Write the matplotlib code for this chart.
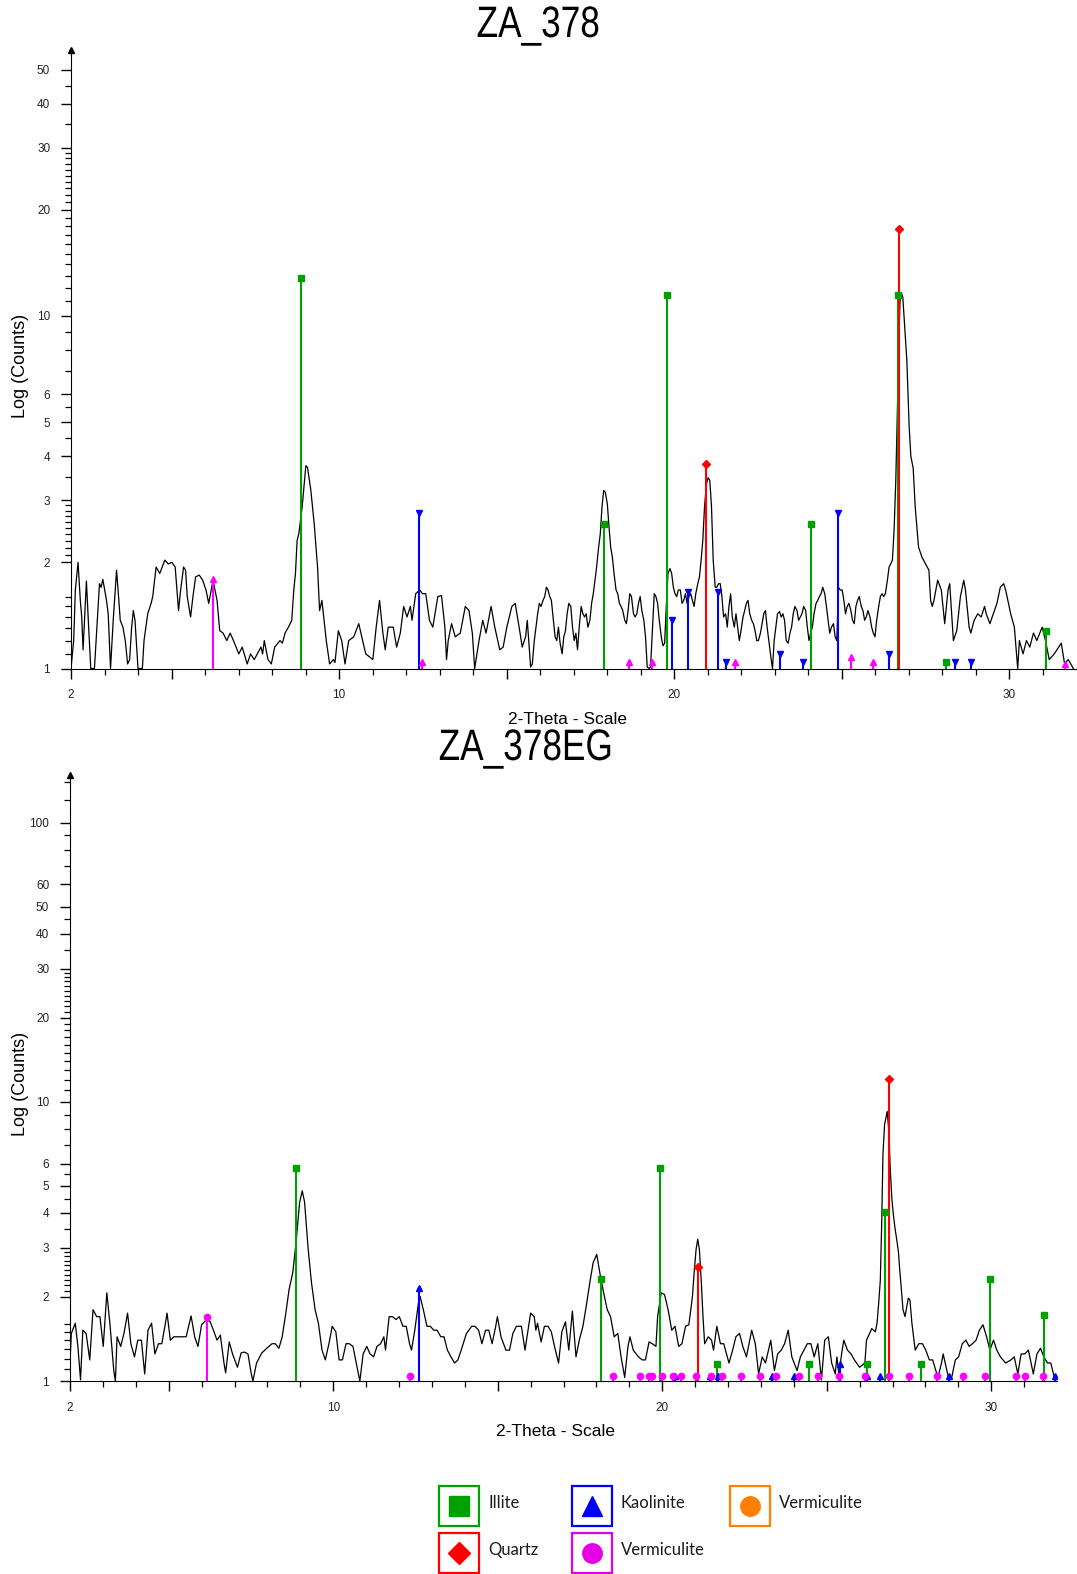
#! /usr/bin/env python3

import matplotlib
matplotlib.use('Agg')
import matplotlib.pyplot as plt
from matplotlib.ticker import FixedLocator, FixedFormatter, NullFormatter
from matplotlib.patches import Rectangle, PathPatch
from matplotlib.textpath import TextPath
from matplotlib.font_manager import FontProperties
from matplotlib.transforms import Affine2D

# ZA_378 scan, 2-theta (deg) and counts
za378_tth = [
    2.00, 2.08, 2.13, 2.21, 2.28, 2.32, 2.36, 2.46, 2.52, 2.59, 2.70, 2.75, 2.85, 2.90, 2.95,
    3.06, 3.11, 3.18, 3.26, 3.36, 3.42, 3.47, 3.55, 3.62, 3.69, 3.75, 3.81, 3.86, 3.91, 4.00,
    4.13, 4.18, 4.29, 4.39, 4.44, 4.54, 4.65, 4.80, 4.90, 5.01, 5.11, 5.21, 5.26, 5.36, 5.42,
    5.47, 5.57, 5.64, 5.72, 5.83, 5.93, 6.03, 6.11, 6.24, 6.36, 6.44, 6.54, 6.65, 6.75, 6.85,
    7.01, 7.11, 7.26, 7.36, 7.47, 7.67, 7.72, 7.77, 7.88, 7.98, 8.08, 8.24, 8.31, 8.39, 8.49,
    8.59, 8.65, 8.70, 8.75, 8.80, 8.90, 9.01, 9.06, 9.16, 9.26, 9.36, 9.42, 9.49, 9.62, 9.72,
    9.83, 9.88, 9.98, 10.08, 10.18, 10.29, 10.44, 10.59, 10.75, 10.80, 11.01, 11.11, 11.21,
    11.31, 11.38, 11.47, 11.62, 11.72, 11.83, 11.93, 12.03, 12.13, 12.18, 12.29, 12.41, 12.49,
    12.59, 12.70, 12.80, 12.95, 13.06, 13.16, 13.21, 13.26, 13.36, 13.47, 13.62, 13.77, 13.88,
    13.98, 14.05, 14.18, 14.29, 14.39, 14.54, 14.65, 14.80, 14.90, 15.01, 15.16, 15.26, 15.36,
    15.47, 15.57, 15.62, 15.72, 15.77, 15.83, 15.88, 15.93, 15.98, 16.03, 16.09, 16.14, 16.19,
    16.24, 16.29, 16.34, 16.40, 16.45, 16.50, 16.55, 16.60, 16.66, 16.71, 16.76, 16.81, 16.86,
    16.92, 16.97, 17.02, 17.07, 17.12, 17.17, 17.23, 17.28, 17.33, 17.38, 17.43, 17.49, 17.54,
    17.59, 17.64, 17.69, 17.75, 17.80, 17.85, 17.90, 17.95, 18.01, 18.06, 18.11, 18.16, 18.21,
    18.27, 18.32, 18.37, 18.42, 18.47, 18.53, 18.58, 18.63, 18.68, 18.73, 18.79, 18.84, 18.89,
    18.94, 18.99, 19.04, 19.10, 19.15, 19.20, 19.25, 19.30, 19.36, 19.41, 19.46, 19.51, 19.56,
    19.62, 19.67, 19.72, 19.77, 19.82, 19.88, 19.93, 19.98, 20.03, 20.08, 20.13, 20.19, 20.24,
    20.29, 20.34, 20.39, 20.45, 20.50, 20.55, 20.60, 20.65, 20.71, 20.76, 20.81, 20.86, 20.91,
    20.97, 21.02, 21.07, 21.12, 21.17, 21.23, 21.28, 21.33, 21.38, 21.43, 21.48, 21.54, 21.59,
    21.64, 21.69, 21.74, 21.80, 21.85, 21.90, 21.95, 22.00, 22.06, 22.11, 22.16, 22.21, 22.26,
    22.32, 22.37, 22.42, 22.47, 22.52, 22.58, 22.63, 22.68, 22.73, 22.78, 22.83, 22.89, 22.94,
    22.99, 23.04, 23.09, 23.15, 23.20, 23.25, 23.30, 23.35, 23.41, 23.46, 23.51, 23.56, 23.61,
    23.67, 23.72, 23.77, 23.82, 23.87, 23.93, 23.98, 24.03, 24.08, 24.13, 24.18, 24.24, 24.29,
    24.34, 24.39, 24.44, 24.50, 24.55, 24.60, 24.65, 24.70, 24.76, 24.81, 24.86, 24.91, 24.96,
    25.02, 25.07, 25.12, 25.17, 25.22, 25.28, 25.33, 25.38, 25.43, 25.48, 25.53, 25.59, 25.64,
    25.69, 25.74, 25.79, 25.85, 25.90, 25.95, 26.00, 26.05, 26.11, 26.16, 26.21, 26.26, 26.31,
    26.37, 26.42, 26.47, 26.52, 26.57, 26.62, 26.67, 26.71, 26.75, 26.79, 26.83, 26.88, 26.95,
    27.02, 27.07, 27.14, 27.20, 27.30, 27.40, 27.51, 27.61, 27.66, 27.71, 27.76, 27.87, 27.98,
    28.08, 28.18, 28.23, 28.34, 28.44, 28.55, 28.65, 28.70, 28.81, 28.86, 28.96, 29.07, 29.17,
    29.27, 29.32, 29.43, 29.64, 29.74, 29.84, 29.90, 30.05, 30.16, 30.26, 30.31, 30.42, 30.52,
    30.62, 30.73, 30.83, 30.99, 31.09, 31.20, 31.35, 31.56, 31.66, 31.77, 31.92,
]
za378_cnt = [
    1.00, 1.20, 1.67, 2.00, 1.55, 1.40, 1.13, 1.77, 1.35, 1.00, 1.00, 1.20, 1.74, 1.70, 1.79,
    1.56, 1.43, 1.00, 1.37, 1.90, 1.60, 1.37, 1.31, 1.20, 1.03, 1.06, 1.31, 1.46, 1.37, 1.00,
    1.00, 1.20, 1.43, 1.53, 1.60, 1.94, 1.86, 2.03, 1.98, 2.00, 1.94, 1.46, 1.63, 1.94, 1.90,
    1.60, 1.40, 1.60, 1.82, 1.84, 1.78, 1.67, 1.53, 1.78, 1.56, 1.28, 1.26, 1.20, 1.26, 1.20,
    1.10, 1.15, 1.03, 1.10, 1.06, 1.15, 1.10, 1.20, 1.06, 1.03, 1.15, 1.20, 1.18, 1.26, 1.31,
    1.37, 1.67, 1.86, 2.31, 2.41, 2.87, 3.76, 3.72, 3.20, 2.57, 1.94, 1.46, 1.56, 1.20, 1.03,
    1.06, 1.04, 1.28, 1.20, 1.03, 1.20, 1.23, 1.34, 1.15, 1.10, 1.06, 1.31, 1.56,
    1.26, 1.13, 1.31, 1.31, 1.15, 1.26, 1.50, 1.40, 1.50, 1.37, 1.63, 1.67, 1.63,
    1.63, 1.37, 1.31, 1.60, 1.61, 1.31, 1.06, 1.20, 1.34, 1.23, 1.26, 1.50, 1.46,
    1.26, 1.00, 1.20, 1.37, 1.26, 1.50, 1.31, 1.13, 1.15, 1.31, 1.50, 1.53, 1.34,
    1.15, 1.23, 1.37, 1.01, 1.03, 1.20, 1.31, 1.43, 1.53, 1.50, 1.56, 1.60, 1.70,
    1.67, 1.60, 1.56, 1.37, 1.23, 1.20, 1.31, 1.18, 1.10, 1.23, 1.28, 1.43, 1.53,
    1.50, 1.31, 1.20, 1.26, 1.13, 1.31, 1.50, 1.43, 1.40, 1.43, 1.31, 1.37, 1.53,
    1.63, 1.78, 1.94, 2.21, 2.41, 2.87, 3.20, 3.16, 2.93, 2.52, 2.21, 2.07, 1.86,
    1.67, 1.63, 1.53, 1.50, 1.46, 1.37, 1.34, 1.46, 1.63, 1.60, 1.43, 1.40, 1.43,
    1.53, 1.60, 1.46, 1.37, 1.23, 1.01, 1.00, 1.01, 1.31, 1.63, 1.60, 1.53, 1.37,
    1.23, 1.16, 1.18, 1.50, 1.86, 1.92, 1.86, 1.70, 1.63, 1.60, 1.67, 1.67, 1.53,
    1.56, 1.63, 1.53, 1.60, 1.63, 1.56, 1.50, 1.63, 1.74, 1.82, 2.03, 2.31, 2.87,
    3.34, 3.48, 3.41, 2.87, 2.03, 1.70, 1.70, 1.74, 1.74, 1.60, 1.40, 1.43, 1.31,
    1.50, 1.63, 1.40, 1.31, 1.43, 1.31, 1.20, 1.28, 1.40, 1.46, 1.53, 1.56, 1.43,
    1.37, 1.34, 1.28, 1.20, 1.20, 1.26, 1.34, 1.43, 1.46, 1.31, 1.20, 1.08, 1.00,
    1.20, 1.31, 1.43, 1.45, 1.40, 1.43, 1.37, 1.20, 1.18, 1.26, 1.31, 1.43, 1.50,
    1.46, 1.37, 1.40, 1.43, 1.50, 1.46, 1.31, 1.20, 1.26, 1.31, 1.43, 1.53, 1.56,
    1.60, 1.63, 1.70, 1.63, 1.50, 1.37, 1.26, 1.31, 1.34, 1.23, 1.20, 1.70, 1.67,
    1.67, 1.56, 1.43, 1.50, 1.53, 1.46, 1.37, 1.34, 1.50, 1.56, 1.60, 1.50, 1.46,
    1.37, 1.40, 1.46, 1.40, 1.31, 1.26, 1.23, 1.37, 1.50, 1.60, 1.63, 1.60, 1.63,
    1.78, 1.94, 1.98, 2.03, 2.47, 3.40, 5.50, 8.50, 11.2, 11.6, 11.3, 9.50, 7.50,
    4.85, 4.00, 3.70, 2.87, 2.21, 2.07, 1.98, 1.90, 1.56, 1.50, 1.56, 1.78, 1.67,
    1.34, 1.67, 1.74, 1.20, 1.28, 1.60, 1.78, 1.67, 1.31, 1.26, 1.37, 1.43, 1.40,
    1.50, 1.43, 1.34, 1.53, 1.70, 1.74, 1.67, 1.43, 1.31, 1.00, 1.20, 1.10, 1.20,
    1.15, 1.26, 1.20, 1.31, 1.20, 1.06, 1.10, 1.18, 1.03, 1.06, 1.00,
]

# ZA_378EG scan
za378eg_tth = [
    2.00, 2.04, 2.16, 2.24, 2.32, 2.39, 2.49, 2.60, 2.70, 2.81, 2.91, 3.01, 3.12, 3.22, 3.33,
    3.38, 3.43, 3.54, 3.64, 3.75, 3.85, 3.96, 4.06, 4.17, 4.27, 4.37, 4.48, 4.58, 4.69, 4.79,
    4.90, 4.95, 5.05, 5.16, 5.32, 5.53, 5.68, 5.79, 5.89, 6.00, 6.15, 6.26, 6.36, 6.47, 6.57,
    6.68, 6.73, 6.84, 6.94, 7.09, 7.20, 7.30, 7.41, 7.51, 7.56, 7.67, 7.83, 7.98, 8.14, 8.24,
    8.35, 8.45, 8.56, 8.66, 8.77, 8.87, 8.98, 9.06, 9.13, 9.24, 9.34, 9.45, 9.55, 9.66, 9.76,
    9.87, 9.97, 10.08, 10.18, 10.28, 10.39, 10.49, 10.60, 10.70, 10.81, 10.91, 11.02, 11.12,
    11.23, 11.33, 11.44, 11.54, 11.59, 11.70, 11.80, 11.91, 12.01, 12.12, 12.22, 12.32, 12.38,
    12.48, 12.59, 12.64, 12.74, 12.85, 12.95, 13.06, 13.16, 13.27, 13.37, 13.47, 13.58, 13.69,
    13.79, 13.89, 14.05, 14.21, 14.31, 14.42, 14.52, 14.63, 14.73, 14.83, 14.94, 14.99, 15.10,
    15.25, 15.36, 15.46, 15.57, 15.72, 15.83, 16.00, 16.11, 16.16, 16.21, 16.32, 16.42, 16.53,
    16.63, 16.74, 16.85, 16.95, 17.06, 17.16, 17.27, 17.38, 17.48, 17.59, 17.69, 17.80, 17.90,
    18.01, 18.12, 18.22, 18.33, 18.43, 18.54, 18.65, 18.75, 18.86, 18.96, 19.02, 19.12, 19.28,
    19.39, 19.49, 19.60, 19.70, 19.81, 19.86, 19.97, 20.07, 20.18, 20.29, 20.39, 20.50, 20.60,
    20.71, 20.81, 20.92, 20.97, 21.03, 21.08, 21.13, 21.19, 21.24, 21.29, 21.40, 21.50, 21.56,
    21.66, 21.77, 21.87, 22.03, 22.14, 22.24, 22.35, 22.45, 22.56, 22.72, 22.83, 22.93, 23.04,
    23.14, 23.30, 23.41, 23.51, 23.62, 23.72, 23.83, 23.94, 24.10, 24.20, 24.31, 24.41, 24.52,
    24.62, 24.73, 24.84, 24.94, 25.05, 25.15, 25.26, 25.31, 25.37, 25.47, 25.52, 25.63, 25.74,
    25.84, 26.00, 26.16, 26.21, 26.37, 26.48, 26.53, 26.58, 26.63, 26.67, 26.71, 26.76, 26.84,
    26.89, 26.93, 26.98, 27.03, 27.08, 27.13, 27.18, 27.22, 27.27, 27.32, 27.38, 27.48, 27.53,
    27.59, 27.69, 27.80, 27.91, 28.01, 28.12, 28.22, 28.38, 28.49, 28.54, 28.70, 28.80, 28.91,
    29.01, 29.12, 29.23, 29.33, 29.43, 29.54, 29.64, 29.75, 29.86, 29.96, 30.07, 30.17, 30.28,
    30.44, 30.60, 30.70, 30.81, 30.91, 31.02, 31.13, 31.28, 31.39, 31.50, 31.60, 31.71, 31.81,
    31.92, 31.97,
]
za378eg_cnt = [
    1.16, 1.48, 1.61, 1.33, 1.01, 1.52, 1.48, 1.19, 1.80, 1.70, 1.70, 1.33, 2.07, 1.57, 1.09,
    1.00, 1.44, 1.33, 1.48, 1.75, 1.36, 1.22, 1.40, 1.40, 1.06, 1.52, 1.61, 1.25, 1.36, 1.36,
    1.61, 1.75, 1.40, 1.44, 1.44, 1.44, 1.71, 1.44, 1.33, 1.59, 1.66, 1.63, 1.52, 1.40, 1.46,
    1.16, 1.07, 1.38, 1.25, 1.12, 1.26, 1.27, 1.25, 1.06, 1.00, 1.16, 1.26, 1.31, 1.36, 1.36,
    1.31, 1.44, 1.75, 2.13, 2.44, 3.13, 4.37, 4.80, 4.37, 2.96, 2.25, 1.80, 1.61, 1.29, 1.19,
    1.36, 1.57, 1.50, 1.19, 1.19, 1.36, 1.36, 1.33, 1.16, 1.00, 1.25, 1.33, 1.25,
    1.22, 1.33, 1.36, 1.44, 1.29, 1.70, 1.70, 1.66, 1.70, 1.57, 1.57, 1.36, 1.29,
    1.52, 1.90, 2.01, 1.80, 1.57, 1.57, 1.52, 1.52, 1.44, 1.44, 1.29, 1.22, 1.16,
    1.19, 1.29, 1.48, 1.57, 1.57, 1.52, 1.36, 1.52, 1.52, 1.36, 1.57, 1.70, 1.44,
    1.29, 1.29, 1.48, 1.57, 1.57, 1.29, 1.75, 1.70, 1.52, 1.61, 1.38, 1.57, 1.57,
    1.50, 1.31, 1.16, 1.50, 1.63, 1.29, 1.78, 1.22, 1.40, 1.57, 1.85, 2.25, 2.65,
    2.84, 2.38, 2.07, 1.80, 1.70, 1.44, 1.48, 1.22, 1.03, 1.33, 1.44, 1.29, 1.22,
    1.19, 1.19, 1.38, 1.36, 1.33, 1.70, 2.07, 2.04, 1.80, 1.52, 1.57, 1.33, 1.36,
    1.57, 1.59, 2.01, 2.44, 2.96, 3.22, 2.96, 2.25, 1.70, 1.36, 1.44, 1.40, 1.29,
    1.57, 1.36, 1.36, 1.16, 1.29, 1.44, 1.48, 1.33, 1.22, 1.52, 1.36, 1.06, 1.22,
    1.16, 1.40, 1.09, 1.25, 1.29, 1.36, 1.52, 1.22, 1.09, 1.22, 1.29, 1.36, 1.36,
    1.22, 1.36, 1.01, 1.40, 1.44, 1.16, 1.06, 1.22, 1.06, 1.29, 1.40, 1.29, 1.25,
    1.19, 1.12, 1.16, 1.40, 1.54, 1.50, 1.61, 1.90, 2.30, 3.60, 6.50, 8.30, 9.23,
    7.80, 5.80, 4.50, 3.90, 3.50, 3.20, 2.90, 2.50, 2.13, 1.80, 1.70, 1.98, 1.95,
    1.61, 1.29, 1.36, 1.36, 1.29, 1.19, 1.19, 1.03, 1.16, 1.25, 1.03, 1.03, 1.19,
    1.22, 1.36, 1.40, 1.33, 1.36, 1.40, 1.52, 1.59, 1.44, 1.29, 1.40, 1.29, 1.22,
    1.16, 1.19, 1.22, 1.06, 1.25, 1.25, 1.29, 1.06, 1.25, 1.31, 1.22, 1.16, 1.16,
    1.03, 1.01,
]

# reference sticks: ZA_378
illite_378_pos = [8.87, 17.90, 19.80, 24.10, 26.70, 28.11, 31.11]
illite_378_val = [12.8, 2.57, 11.5, 2.57, 11.5, 1.04, 1.28]
kaol_378_pos = [12.38, 19.93, 20.42, 21.30, 21.56, 23.15, 23.84, 24.89, 26.42, 28.39, 28.87]
kaol_378_val = [2.77, 1.37, 1.65, 1.65, 1.04, 1.10, 1.04, 2.77, 1.10, 1.04, 1.04]
quartz_378_pos = [20.97, 26.73]
quartz_378_val = [3.81, 17.7]
verm_378_pos = [6.24, 12.49, 18.66, 19.33, 21.83, 25.28, 25.95, 31.66]
verm_378_val = [1.79, 1.04, 1.04, 1.04, 1.04, 1.08, 1.04, 1.03]

# reference sticks: ZA_378EG
illite_eg_pos = [8.88, 18.14, 19.92, 21.66, 24.47, 26.22, 26.76, 27.87, 29.95, 31.59]
illite_eg_val = [5.80, 2.31, 5.80, 1.15, 1.15, 1.15, 4.04, 1.15, 2.31, 1.73]
kaol_eg_pos = [12.62, 20.39, 21.45, 21.71, 23.33, 24.01, 25.39, 26.22, 26.61, 28.73, 31.93]
kaol_eg_val = [2.15, 1.04, 1.04, 1.04, 1.04, 1.04, 1.15, 1.04, 1.04, 1.04, 1.04]
quartz_eg_pos = [21.10, 26.88]
quartz_eg_val = [2.57, 12.1]
verm_eg_pos = [6.16, 12.32, 18.51, 19.32, 19.60, 19.70, 20.00, 20.34, 20.57, 21.03, 21.47,
               21.82, 22.41, 22.98, 23.46, 24.15, 24.75, 25.37, 26.16, 26.89, 27.50, 28.36,
               29.14, 29.81, 30.74, 31.03, 31.57]
verm_eg_val = [1.70] + [1.04] * 26

# y tick values
top_major = [1, 2, 3, 4, 5, 6, 10, 20, 30, 40, 50]
bot_major = [1, 2, 3, 4, 5, 6, 10, 20, 30, 40, 50, 60, 100]
minor_common = [1.1, 1.2, 1.3, 1.4, 1.5, 1.6, 2.1, 2.2, 2.3, 2.4, 2.5, 2.6, 2.7, 2.8, 2.9,
                3.5, 4.5, 5.5, 7, 8, 9, 11, 12, 13, 14, 15, 16, 17, 18, 19,
                21, 22, 23, 24, 25, 26, 27, 28, 29, 35, 45]
bot_extra_minor = [70, 80, 90, 120, 140]

GREEN = '#00A000'
BLUE = '#0000FF'
RED = '#FF0000'
MAGENTA = '#FF00FF'
ORANGE = '#FF8000'
W, H = 1077, 1574


def style_axes(ax, ymax, major, minor):
    ax.set_yscale('log')
    ax.set_xlim(2, 32)
    ax.set_ylim(1, ymax)
    ax.spines['top'].set_visible(False)
    ax.spines['right'].set_visible(False)
    ax.yaxis.set_major_locator(FixedLocator(major))
    ax.yaxis.set_major_formatter(FixedFormatter([str(v) for v in major]))
    ax.yaxis.set_minor_locator(FixedLocator(minor))
    ax.yaxis.set_minor_formatter(NullFormatter())
    ax.xaxis.set_major_locator(FixedLocator([2, 5, 10, 15, 20, 25, 30]))
    ax.xaxis.set_major_formatter(FixedFormatter(['2', '', '10', '', '20', '', '30']))
    ax.xaxis.set_minor_locator(FixedLocator(list(range(3, 32))))
    ax.tick_params(which='major', length=7, width=1, labelsize=8.5, labelcolor='#222222')
    ax.tick_params(which='minor', length=4, width=0.9)
    ax.tick_params(axis='y', which='major', pad=8)
    ax.tick_params(axis='x', which='major', pad=8)
    # arrow head at the top of the y axis
    ax.plot(0, 1, marker='^', color='k', markersize=5, transform=ax.transAxes, clip_on=False)


def draw_sticks(ax, pos, val, color, marker, ms=4.5):
    ax.vlines(pos, 1, val, colors=color, linewidth=1.5, zorder=3)
    ax.plot(pos, val, linestyle='none', marker=marker, color=color, markersize=ms, zorder=4)


def narrow_title(fig, text, cx, cy, size=44, squeeze=0.8):
    # the original titles use a condensed face, so squeeze a text path sideways
    path = TextPath((0, 0), text, size=size, prop=FontProperties(family='Liberation Sans'))
    bb = path.get_extents()
    tr = (Affine2D().translate(-(bb.x0 + bb.x1) / 2, -(bb.y0 + bb.y1) / 2)
          .scale(squeeze, 1).translate(cx, H - cy))
    fig.add_artist(PathPatch(path, transform=tr, facecolor='k', edgecolor='none'))


def main():
    plt.rcParams['font.family'] = ['Liberation Sans', 'DejaVu Sans']
    fig = plt.figure(figsize=(W / 100, H / 100), dpi=100)

    ax1 = fig.add_axes([71 / W, 1 - 668.5 / H, 1005 / W, 618.5 / H])
    ax1.plot(za378_tth, za378_cnt, color='k', linewidth=0.9, zorder=2)
    draw_sticks(ax1, illite_378_pos, illite_378_val, GREEN, 's')
    draw_sticks(ax1, kaol_378_pos, kaol_378_val, BLUE, 'v')
    draw_sticks(ax1, verm_378_pos, verm_378_val, MAGENTA, '^')
    draw_sticks(ax1, quartz_378_pos, quartz_378_val, RED, 'D', ms=4)
    style_axes(ax1, 56.8, top_major, minor_common)

    ax2 = fig.add_axes([70 / W, 1 - 1381 / H, 987 / W, 606 / H])
    ax2.plot(za378eg_tth, za378eg_cnt, color='k', linewidth=0.9, zorder=2)
    draw_sticks(ax2, illite_eg_pos, illite_eg_val, GREEN, 's')
    draw_sticks(ax2, kaol_eg_pos, kaol_eg_val, BLUE, '^')
    draw_sticks(ax2, verm_eg_pos, verm_eg_val, MAGENTA, 'o')
    draw_sticks(ax2, quartz_eg_pos, quartz_eg_val, RED, 'D', ms=4)
    style_axes(ax2, 148, bot_major, minor_common + bot_extra_minor)

    # titles and axis captions
    narrow_title(fig, 'ZA_378', 538, 26)
    narrow_title(fig, 'ZA_378EG', 525, 749)
    fig.text(567 / W, 1 - 720 / H, '2-Theta - Scale', fontsize=12.5, ha='center', va='center')
    fig.text(556 / W, 1 - 1431 / H, '2-Theta - Scale', fontsize=12.5, ha='center', va='center')
    fig.text(21 / W, 1 - 366 / H, 'Log (Counts)', fontsize=13, rotation=90,
             ha='center', va='center')
    fig.text(21 / W, 1 - 1084 / H, 'Log (Counts)', fontsize=13, rotation=90,
             ha='center', va='center')

    # phase legend, drawn in pixel units
    lax = fig.add_axes([0, 0, 1, 1], facecolor='none')
    lax.set_xlim(0, W)
    lax.set_ylim(H, 0)
    lax.axis('off')
    entries = [
        (459, 1506, GREEN, 's', 14, 'Illite'),
        (592, 1506, BLUE, '^', 15, 'Kaolinite'),
        (750, 1506, ORANGE, 'o', 14, 'Vermiculite'),
        (459, 1553, RED, 'D', 11, 'Quartz'),
        (592, 1553, '#E600E6', 'o', 14, 'Vermiculite'),
    ]
    for cx, cy, col, mk, ms, name in entries:
        lax.add_patch(Rectangle((cx - 20, cy - 20), 40, 40, fill=False,
                                edgecolor=col, linewidth=1.6))
        lax.plot(cx, cy, marker=mk, color=col, markersize=ms)
        lax.text(cx + 29, cy - 3, name, fontsize=12, family=['Lato', 'DejaVu Sans'],
                 color='#1a1a1a', ha='left', va='center')

    plt.savefig('out.png', dpi=100)
    print('saved figure to out.png')


if __name__ == '__main__':
    main()
